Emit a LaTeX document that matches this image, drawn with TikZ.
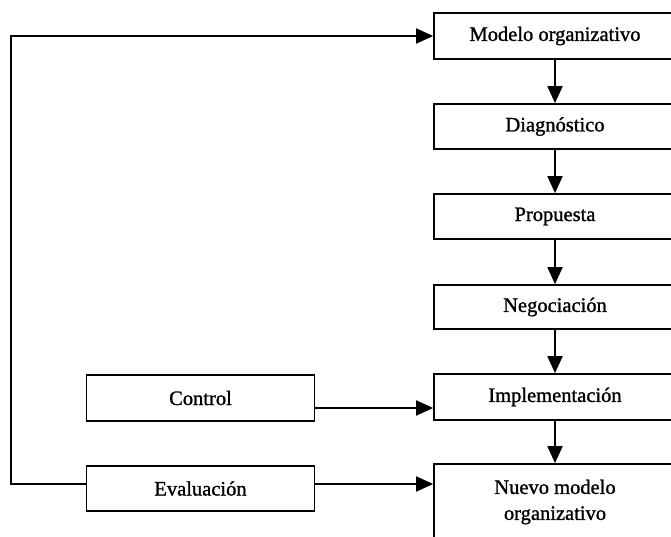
\documentclass[tikz,border=0pt]{standalone}
\usepackage{fontspec}
\setmainfont{Liberation Serif}[FakeBold=1.2]
\usetikzlibrary{arrows.meta}
\begin{document}
\begin{tikzpicture}[x=1pt,y=1pt,
  box/.style={draw, line width=1.7pt, inner sep=0pt, font=\fontsize{20.5}{26}\selectfont\bfseries\mdseries, align=center},
  mainbox/.style={box, minimum width=242pt},
  sidebox/.style={box, minimum width=228pt, minimum height=45.5pt},
  arr/.style={line width=1.9pt, -{Triangle[length=17pt,width=15pt]}},
  ln/.style={line width=1.9pt}]
\useasboundingbox (0,0) rectangle (671,-537);
\node[mainbox, minimum height=46pt] (m) at (555,-36) {Modelo organizativo};
\node[mainbox, minimum height=45pt] (d) at (555,-126.5) {Diagnóstico};
\node[mainbox, minimum height=45pt] (p) at (555,-216.5) {Propuesta};
\node[mainbox, minimum height=44pt] (n) at (555,-307) {Negociación};
\node[mainbox, minimum height=46pt] (i) at (555,-397) {Implementación};
\node[mainbox, minimum height=76pt] (nv) at (555,-502) {Nuevo modelo\\organizativo};
\node[sidebox] (c) at (200.5,-398) {Control};
\node[sidebox] (e) at (200.5,-488.5) {Evaluación};
\coordinate (lc) at (11,-484);
\draw[arr] (m) -- (d);
\draw[arr] (d) -- (p);
\draw[arr] (p) -- (n);
\draw[arr] (n) -- (i);
\draw[arr] (i) -- (nv);
\draw[arr] ([yshift=-10pt]c.east) -- ([yshift=-10pt]c.east -| i.west);
\draw[arr] ([yshift=4.5pt]e.east) -- ([yshift=4.5pt]e.east -| nv.west);
\draw[arr] ([yshift=4.5pt]e.west) -- (lc) |- (m.west);
\end{tikzpicture}
\end{document}
